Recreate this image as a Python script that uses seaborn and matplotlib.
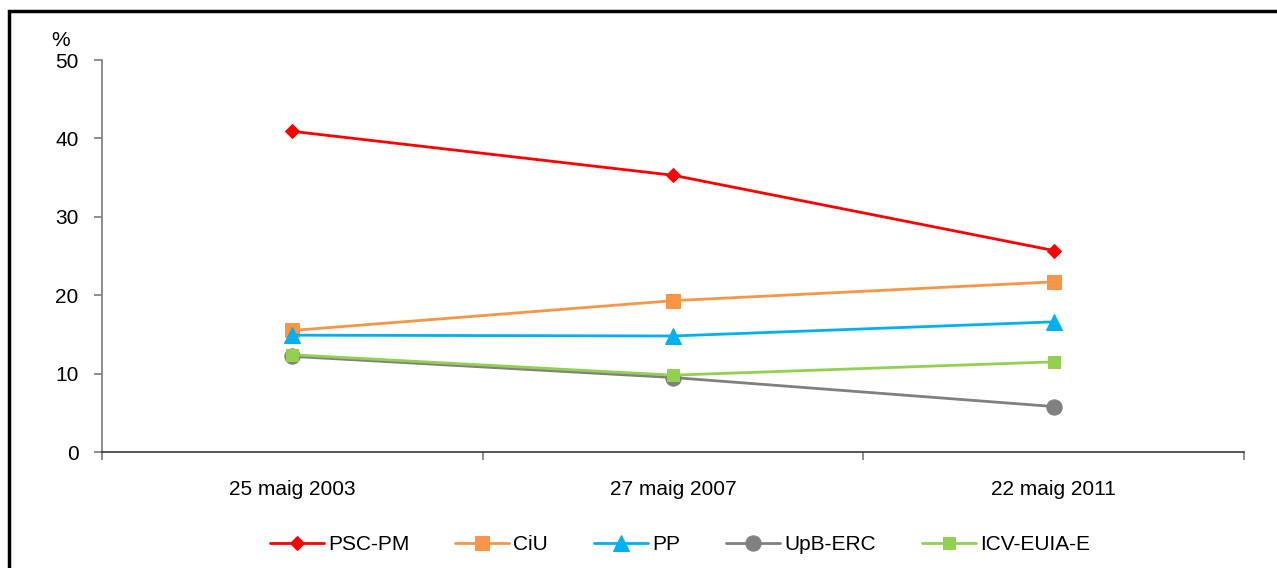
import numpy as np
import pandas as pd
import matplotlib
matplotlib.use("Agg")
import matplotlib.pyplot as plt
import seaborn as sns
from matplotlib.patches import Rectangle

# data
dates = ["25 maig 2003", "27 maig 2007", "22 maig 2011"]
parties = ["PSC-PM", "CiU", "PP", "UpB-ERC", "ICV-EUIA-E"]
psc_pm = [40.9, 35.3, 25.7]
ciu = [15.5, 19.3, 21.7]
pp = [14.9, 14.8, 16.6]
upb_erc = [12.2, 9.5, 5.8]
icv_euia = [12.4, 9.8, 11.5]

colors = ["#FF0000", "#F79646", "#00B0F0", "#808080", "#92D050"]
markers = ["D", "s", "^", "o", "s"]
sizes = [7, 10, 11, 11, 9]

# set the style
sns.set_theme(style="white")
plt.rcParams["font.family"] = ["Liberation Sans", "DejaVu Sans"]
plt.rcParams["text.color"] = "black"
plt.rcParams["xtick.color"] = "black"
plt.rcParams["ytick.color"] = "black"

# build a long table for seaborn
values = [psc_pm, ciu, pp, upb_erc, icv_euia]
rows = []
for party, vals in zip(parties, values):
    for i, v in enumerate(vals):
        rows.append({"pos": i + 0.5, "party": party, "value": v})
df = pd.DataFrame(rows)

fs = 15

fig = plt.figure(figsize=(12.77, 5.68), dpi=100)
ax = fig.add_axes([102 / 1277, 1 - 452 / 568, (1244 - 102) / 1277, (452 - 60) / 568])

for party, color, marker, size in zip(parties, colors, markers, sizes):
    sns.lineplot(data=df[df["party"] == party], x="pos", y="value", ax=ax,
                 color=color, marker=marker, markersize=size, linewidth=2,
                 markeredgecolor=color, label=party)

# axes and ticks
ax.set_xlim(0, 3)
ax.set_ylim(0, 50)
ax.set_yticks(np.arange(0, 51, 10))
ax.set_xticks([0, 1, 2, 3])
ax.set_xticklabels([])
ax.set_xticks([0.5, 1.5, 2.5], minor=True)
ax.set_xticklabels(dates, minor=True, fontsize=fs)
ax.tick_params(axis="x", which="major", direction="out", length=6, color="#808080", bottom=True)
ax.tick_params(axis="x", which="minor", length=0, pad=20)
ax.tick_params(axis="y", direction="out", length=6, color="#808080", left=True, labelsize=fs, pad=11)
ax.set_xlabel("")
ax.set_ylabel("")
for s in ["top", "right"]:
    ax.spines[s].set_visible(False)
ax.spines["left"].set_color("#808080")
ax.spines["bottom"].set_color("#404040")
fig.text(51 / 1277, 1 - 50 / 568, "%", fontsize=fs, ha="left", va="bottom")

# legend at the bottom
ax.legend(ncol=5, loc="center", bbox_to_anchor=(680 / 1277, 1 - 545 / 568), bbox_transform=fig.transFigure,
          frameon=False, fontsize=fs, handlelength=2.6, columnspacing=2.2, handletextpad=0.2)

# outer frame
fig.patches.append(Rectangle((9 / 1277, -0.1), 1.2, 1 - 11 / 568 + 0.1, transform=fig.transFigure,
                             fill=False, edgecolor="black", linewidth=2.5))

plt.savefig("out.png", dpi=100)
